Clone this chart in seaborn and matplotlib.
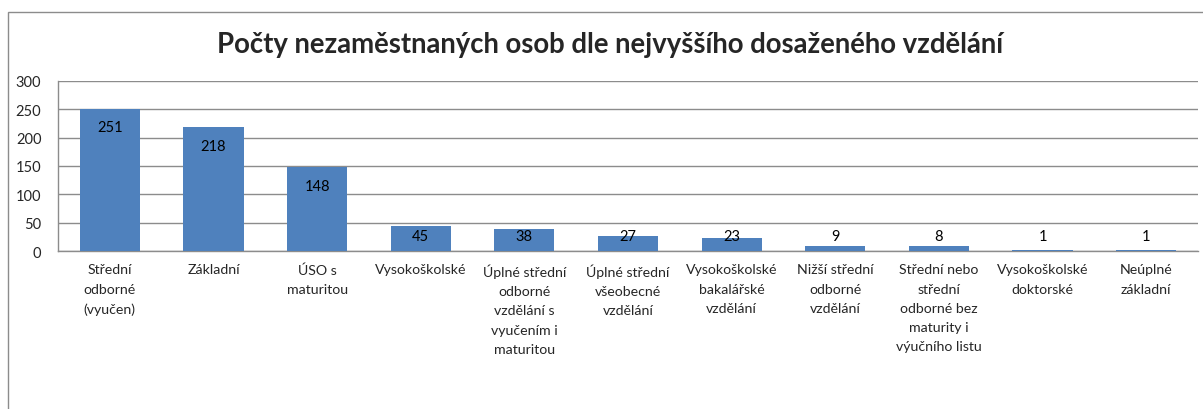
import pandas as pd
import matplotlib.pyplot as plt
import seaborn as sns
from matplotlib.patches import Rectangle

# categories and counts
categories = [
    'Střední\nodborné\n(vyučen)', 'Základní', 'ÚSO s\nmaturitou', 'Vysokoškolské',
    'Úplné střední\nodborné\nvzdělání s\nvyučením i\nmaturitou',
    'Úplné střední\nvšeobecné\nvzdělání', 'Vysokoškolské\nbakalářské\nvzdělání',
    'Nižší střední\nodborné\nvzdělání',
    'Střední nebo\nstřední\nodborné bez\nmaturity i\nvýučního listu',
    'Vysokoškolské\ndoktorské', 'Neúplné\nzákladní'
]
counts = [251, 218, 148, 45, 38, 27, 23, 9, 8, 1, 1]
y_ticks = [0, 50, 100, 150, 200, 250, 300]

df = pd.DataFrame({'Vzdělání': categories, 'Počet': counts})

sns.set_style('white')
plt.rcParams['font.family'] = ['Lato', 'DejaVu Sans']

fig = plt.figure(figsize=(12.03, 4.10), dpi=100)
ax = fig.add_axes([58 / 1203, 1 - 252 / 410, 1140 / 1203, 170 / 410])

sns.barplot(x='Vzdělání', y='Počet', data=df, color='#4F81BD', saturation=1,
            width=0.58, linewidth=0, ax=ax, zorder=3)

ax.set_ylim(0, 300)
ax.set_yticks(y_ticks)
ax.yaxis.grid(True, color='#8C8C8C', linewidth=1, zorder=0)
ax.set_xlabel('')
ax.set_ylabel('')
ax.tick_params(axis='y', labelsize=10.5, length=0, pad=12)
ax.tick_params(axis='x', labelsize=10.2, length=0, pad=9)
for lbl in ax.get_xticklabels():
    lbl.set_linespacing(1.72)
    lbl.set_verticalalignment('top')

for s in ['top', 'right']:
    ax.spines[s].set_visible(False)
for s in ['left', 'bottom']:
    ax.spines[s].set_color('#8C8C8C')
    ax.spines[s].set_linewidth(1)

# data labels inside bar tops
for i, v in enumerate(counts):
    ax.text(i, max(v - 33, 26), str(v), ha='center', va='center',
            fontsize=10.5, color='black', zorder=4)

fig.text(610 / 1203, 1 - 45 / 410, 'Počty nezaměstnaných osob dle nejvyššího dosaženého vzdělání',
         ha='center', va='center', fontsize=19.8, fontweight='bold')

# chart area border
fig.patches.append(Rectangle((8 / 1203, -0.05), 1.2, 1 - 12.5 / 410 + 0.05,
                             transform=fig.transFigure, fill=False,
                             edgecolor='#8C8C8C', linewidth=1))

fig.savefig('out.png', dpi=100)
